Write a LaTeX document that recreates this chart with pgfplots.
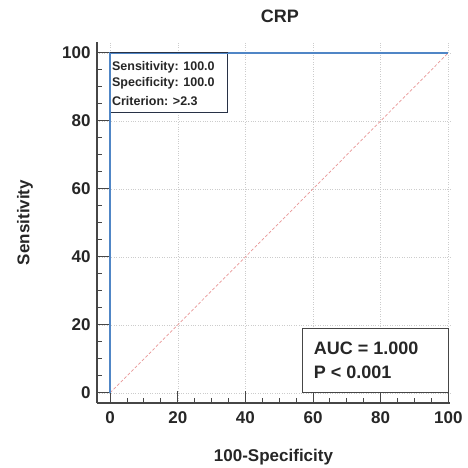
\documentclass[border=0pt]{standalone}
\usepackage{fontspec}
\setmainfont{Liberation Sans}
\usepackage{pgfplots}
\pgfplotsset{compat=1.18}
\definecolor{rocblue}{RGB}{80,134,198}
\definecolor{diagred}{RGB}{232,150,150}
\definecolor{axgray}{RGB}{70,70,70}
\definecolor{boxnavy}{RGB}{40,50,70}
\tikzset{
    boxtxt/.style={anchor=west, inner sep=0pt,
        font=\fontsize{12.5}{14}\selectfont\bfseries, text=black!85},
    auctxt/.style={anchor=west, inner sep=0pt,
        font=\fontsize{18}{20}\selectfont\bfseries, text=black!85},
}

\begin{document}
\begin{tikzpicture}
\begin{axis}[
    scale only axis, width=353pt, height=361pt,
    xmin=-3.9, xmax=100.5, ymin=-3, ymax=103.2,
    axis lines*=left,
    axis line style={axgray, line width=1.4pt},
    xtick={0,20,...,100}, ytick={0,20,...,100},
    minor tick num=3,
    tick align=inside,
    major tick length=12pt, minor tick length=5pt,
    tick style={axgray, line width=1pt},
    grid=major,
    major grid style={dotted, gray!40, line width=0.6pt},
    /pgf/number format/assume math mode=true,
    tick label style={font=\fontsize{17}{18}\selectfont\bfseries, text=black!85},
    xticklabel style={yshift=-5pt},
    yticklabel style={xshift=-3pt},
    title={CRP},
    title style={font=\fontsize{18}{20}\selectfont\bfseries, text=black!85,
        at={(axis description cs:0.518,1.055)}, anchor=center},
    xlabel={100-Specificity},
    xlabel style={font=\fontsize{17}{19}\selectfont\bfseries, text=black!85,
        at={(axis description cs:0.5,-0.15)}, anchor=center},
    ylabel={Sensitivity},
    ylabel style={font=\fontsize{17}{19}\selectfont\bfseries, text=black!85,
        at={(axis description cs:-0.204,0.5)}, anchor=center, rotate=0},
    clip=false,
]
\addplot[diagred, densely dashed, line width=0.7pt] coordinates {(0,0) (100,100)};
\addplot[rocblue, line width=2.6pt] coordinates {(0,0) (0,100) (100,100)};

% criterion box
\draw[boxnavy, line width=0.9pt, fill=white] (axis cs:0,100) rectangle (axis cs:34.8,82.4);
\draw[rocblue, line width=2.6pt] (axis cs:0,82.4) -- (axis cs:0,100) -- (axis cs:34.8,100);
\draw[boxnavy, line width=0.9pt] (axis cs:0,100) -- (axis cs:34.8,100);
\node[boxtxt] at (axis cs:0.5,95.9) {Sensitivity: 100.0};
\node[boxtxt] at (axis cs:0.5,91.0) {Specificity: 100.0};
\node[boxtxt] at (axis cs:0.5,85.8) {Criterion: >2.3};

% AUC box
\draw[axgray, line width=0.9pt, fill=white] (axis cs:57,0) rectangle (axis cs:100,19);
\node[auctxt] at (axis cs:60.2,13.2) {AUC = 1.000};
\node[auctxt] at (axis cs:60.2,6.0) {P < 0.001};
\end{axis}
\pgfresetboundingbox
\path[use as bounding box]
    ([xshift=-97pt,yshift=-65pt]current axis.south west)
    rectangle ([xshift=17pt,yshift=42pt]current axis.north east);
\end{tikzpicture}
\end{document}
